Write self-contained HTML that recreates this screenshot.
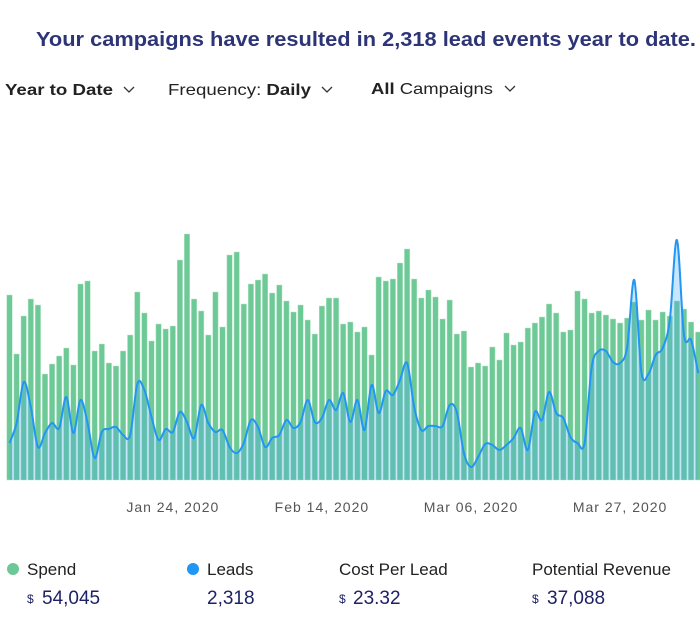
<!DOCTYPE html>
<html><head><meta charset="utf-8"><style>
html,body{margin:0;padding:0;background:#fff;}
svg{display:block;font-family:"Liberation Sans",sans-serif;}
</style></head><body>
<svg id="chart" width="700" height="619" viewBox="0 0 700 619">
<text x="36" y="46" font-size="20" font-weight="bold" fill="#2e3577" textLength="660" lengthAdjust="spacingAndGlyphs">Your campaigns have resulted in 2,318 lead events year to date.</text>
<g><text x="5" y="95" font-size="16" font-weight="bold" fill="#222" textLength="108" lengthAdjust="spacingAndGlyphs">Year to Date</text><path d="M124 87l5 5 5-5" stroke="#333" fill="none" stroke-width="1.3"/></g>
<g><text x="168" y="95" font-size="16" fill="#222" textLength="143" lengthAdjust="spacingAndGlyphs">Frequency: <tspan font-weight="bold">Daily</tspan></text><path d="M322 87l5 5 5-5" stroke="#333" fill="none" stroke-width="1.3"/></g>
<g><text x="371" y="94" font-size="16" fill="#222" textLength="122" lengthAdjust="spacingAndGlyphs"><tspan font-weight="bold">All</tspan> Campaigns</text><path d="M505 86l5 5 5-5" stroke="#333" fill="none" stroke-width="1.3"/></g>
<g id="bars"></g>
<path id="area" fill="rgba(66,165,245,0.28)"/>
<path id="line" fill="none" stroke="#2196f3" stroke-width="2"/>
<g id="xaxis"></g>
<g><circle cx="13" cy="569" r="6" fill="#6cc995"/><text x="27" y="575" font-size="17" fill="#222">Spend</text><text x="27" y="603" font-size="12" fill="#1d2266">$</text><text x="42" y="604" font-size="19" fill="#1d2266">54,045</text></g>
<g><circle cx="193" cy="569" r="6" fill="#2196f3"/><text x="207" y="575" font-size="17" fill="#222">Leads</text><text x="207" y="604" font-size="19" fill="#1d2266">2,318</text></g>
<g><text x="339" y="575" font-size="17" fill="#222">Cost Per Lead</text><text x="339" y="603" font-size="12" fill="#1d2266">$</text><text x="353" y="604" font-size="19" fill="#1d2266">23.32</text></g>
<g><text x="532" y="575" font-size="17" fill="#222">Potential Revenue</text><text x="532" y="603" font-size="12" fill="#1d2266">$</text><text x="547" y="604" font-size="19" fill="#1d2266">37,088</text></g>
</svg>
<script>
const spend=[185,126,164,181,175,106,116,124,132,115,196,199,129,136,117,114,129,145,188,167,139,156,151,154,220,246,181,169,145,188,153,225,228,176,196,200,206,187,195,179,168,175,160,146,174,182,182,156,
158,148,153,125,203,199,201,217,231,201,182,190,183,161,180,146,149,113,117,114,133,120,147,135,138,152,157,163,176,167,148,150,189,181,167,169,165,161,157,162,178,160,170,160,168,164,179,171,158,148];
const leads=[37,57,98,73,33,47,57,52,83,47,80,57,22,48,51,53,45,45,96,90,63,40,51,48,68,58,42,75,57,48,50,33,27,37,60,53,33,42,45,60,52,58,80,58,62,80,70,87,
58,80,50,95,67,89,85,100,117,73,50,54,54,54,75,68,27,13,23,36,35,30,35,42,52,30,68,60,88,67,62,43,37,37,113,129,129,118,117,133,200,108,106,125,132,160,240,145,140,107];
const startDate=new Date(2020,0,1);
const tickLabels=["Jan 24, 2020","Feb 14, 2020","Mar 06, 2020","Mar 27, 2020"];
const tickDays=[23,44,65,86];
const NS="http://www.w3.org/2000/svg";
const x0=9.5,dx=7.1,base=480;
const xs=i=>x0+i*dx;
const ys=v=>base-v;
const g=document.getElementById('bars');
spend.forEach((v,i)=>{const r=document.createElementNS(NS,'rect');
r.setAttribute('x',xs(i)-2.7);r.setAttribute('y',ys(v));r.setAttribute('width',5.4);r.setAttribute('height',v);
r.setAttribute('fill','#6dc995');r.setAttribute('stroke','#b8e6cb');r.setAttribute('stroke-width','0.5');


g.appendChild(r);});
const pts=leads.map((v,i)=>[xs(i),ys(v)]);
let d='M'+pts[0][0]+','+pts[0][1];
for(let i=0;i<pts.length-1;i++){const p0=pts[i-1]||pts[i],p1=pts[i],p2=pts[i+1],p3=pts[i+2]||p2;
const c1=[p1[0]+(p2[0]-p0[0])/6,p1[1]+(p2[1]-p0[1])/6],c2=[p2[0]-(p3[0]-p1[0])/6,p2[1]-(p3[1]-p1[1])/6];
d+=` C${c1[0]},${c1[1]} ${c2[0]},${c2[1]} ${p2[0]},${p2[1]}`;}
const last=pts[pts.length-1];
document.getElementById('line').setAttribute('d',d);
document.getElementById('area').setAttribute('d',d+` L${last[0]},${base} L${pts[0][0]},${base} Z`);
const ax=document.getElementById('xaxis');
tickLabels.forEach((t,k)=>{const e=document.createElementNS(NS,'text');
e.setAttribute('x',xs(tickDays[k]));e.setAttribute('y',512);e.setAttribute('text-anchor','middle');
e.setAttribute('font-size','14');e.setAttribute('fill','#555');e.setAttribute('letter-spacing','1');


e.textContent=t;ax.appendChild(e);});
</script>
</body></html>
